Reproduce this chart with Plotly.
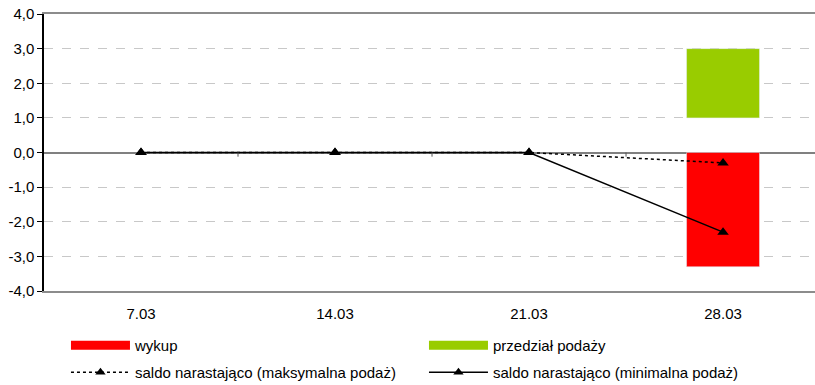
import plotly.graph_objects as go

categories = ["7.03", "14.03", "21.03", "28.03"]
wykup = [None, None, None, -3.3]
podaz_min = [None, None, None, 1.0]
podaz_max = [None, None, None, 3.0]
saldo_maks = [0.0, 0.0, 0.0, -0.3]
saldo_min = [0.0, 0.0, 0.0, -2.3]
y_ticks = [-4, -3, -2, -1, 0, 1, 2, 3, 4]
y_ticktext = [f"{v:.1f}".replace(".", ",") for v in y_ticks]

RED = "#ff0000"
GREEN = "#99cc00"
FONT = "Liberation Sans, Arial, sans-serif"
FS = 15

podaz_len = [None if a is None else b - a for a, b in zip(podaz_min, podaz_max)]

fig = go.Figure()
fig.add_trace(go.Bar(x=categories, y=wykup, marker_color=RED, width=0.376,
                     showlegend=False, name="wykup"))
fig.add_trace(go.Bar(x=categories, y=podaz_len, base=podaz_min, marker_color=GREEN,
                     width=0.376, showlegend=False, name="przedział podaży"))
fig.add_trace(go.Scatter(x=categories, y=saldo_maks, mode="lines+markers",
                         line=dict(color="black", width=1.5, dash="3px,3px"),
                         marker=dict(symbol="triangle-up", size=10, color="black"),
                         showlegend=False))
fig.add_trace(go.Scatter(x=categories, y=saldo_min, mode="lines+markers",
                         line=dict(color="black", width=1.5),
                         marker=dict(symbol="triangle-up", size=10, color="black"),
                         showlegend=False))

# legend entries
fig.add_trace(go.Scatter(x=[None], y=[None], mode="lines", name="wykup",
                         line=dict(color=RED, width=9), legend="legend"))
fig.add_trace(go.Scatter(x=[None], y=[None], mode="lines", name="przedział podaży",
                         line=dict(color=GREEN, width=9), legend="legend"))
fig.add_trace(go.Scatter(x=[None], y=[None], mode="lines+markers",
                         name="saldo narastająco (maksymalna podaż)",
                         line=dict(color="black", width=1.5, dash="3px,3px"),
                         marker=dict(symbol="triangle-up", size=9, color="black"),
                         legend="legend2"))
fig.add_trace(go.Scatter(x=[None], y=[None], mode="lines+markers",
                         name="saldo narastająco (minimalna podaż)",
                         line=dict(color="black", width=1.5),
                         marker=dict(symbol="triangle-up", size=9, color="black"),
                         legend="legend2"))

# small category-boundary ticks on the zero line
for b in [0.5, 1.5, 2.5]:
    fig.add_shape(type="line", xref="x", yref="y", x0=b, x1=b, y0=0, y1=-0.12,
                  line=dict(color="#555555", width=1))

leg_common = dict(orientation="h", xanchor="left", yanchor="top",
                  entrywidth=284, entrywidthmode="pixels", traceorder="normal",
                  font=dict(family=FONT, size=FS, color="black"),
                  itemwidth=59, bgcolor="rgba(0,0,0,0)")

fig.update_layout(
    width=815, height=385,
    margin=dict(l=44, r=0, t=14, b=94, autoexpand=False),
    paper_bgcolor="white", plot_bgcolor="white",
    barmode="overlay",
    font=dict(family=FONT, size=FS, color="black"),
    showlegend=True,
    legend=dict(x=0.0285, y=-0.137, **leg_common),
    legend2=dict(x=0.0285, y=-0.235, **leg_common),
)
fig.update_xaxes(type="category", range=[-0.5, 3.474], showgrid=False,
                 showline=True, linecolor="#8c8c8c", linewidth=2, mirror=True,
                 ticks="", ticklabelstandoff=8, tickfont=dict(size=FS))
fig.update_yaxes(range=[-4, 4], tickvals=y_ticks, ticktext=y_ticktext,
                 showgrid=True, gridcolor="#c8c8c8", griddash="dash", gridwidth=1,
                 zeroline=True, zerolinecolor="#808080", zerolinewidth=2,
                 showline=True, linecolor="black", linewidth=1.5,
                 ticks="outside", ticklen=5, tickcolor="black", tickwidth=1,
                 tickfont=dict(size=FS))

fig.write_html("out.html")
